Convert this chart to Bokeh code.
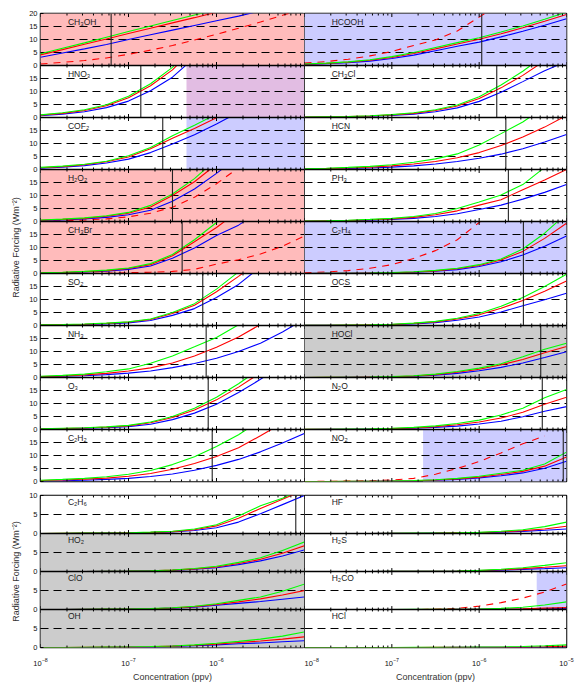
from bokeh.plotting import figure
from bokeh.models import Range1d, FixedTicker, CustomJSTickFormatter, ColumnDataSource
from bokeh.layouts import row, column
from bokeh.transform import dodge
from bokeh.core.properties import value
from bokeh.embed import file_html
from bokeh.resources import INLINE

# ---------------- data ----------------
CONC = [1e-8, 1.78e-8, 3.16e-8, 5.62e-8, 1e-7, 1.78e-7, 3.16e-7, 5.62e-7,
        1e-6, 1.78e-6, 3.16e-6, 5.62e-6, 1e-5]
X_TICKS = [1e-8, 1e-7, 1e-6, 1e-5]

# top-left column
CH3OH_G = [4.5, 6.6, 8.7, 10.9, 13.1, 15.2, 17.3, 19.4, 21.5]
CH3OH_R = [4.1, 6.1, 8.2, 10.2, 12.3, 14.3, 16.4, 18.4, 20.5]
CH3OH_B = [3.2, 4.8, 6.4, 8.1, 10.0, 11.8, 13.6, 15.4, 17.2, 19.0, 21.0]
CH3OH_D = [0.6, 1.2, 1.9, 2.9, 4.3, 5.9, 7.7, 9.8, 12.0, 14.3, 16.7, 19.3, 22.0]
HNO3_G = [1.0, 1.8, 3.0, 4.9, 8.2, 13.0, 19.3, 28.0]
HNO3_R = [0.9, 1.6, 2.7, 4.5, 7.6, 12.2, 18.3, 27.0]
HNO3_B = [0.7, 1.3, 2.2, 3.8, 6.3, 10.3, 15.5, 23.0]
COF2_G = [0.8, 1.3, 2.0, 3.2, 5.3, 8.5, 13.0, 17.0, 21.3]
COF2_R = [0.7, 1.1, 1.8, 3.0, 4.8, 8.0, 12.0, 15.8, 19.9, 24.0]
COF2_B = [0.5, 0.9, 1.5, 2.5, 4.0, 6.5, 9.8, 13.4, 17.5, 22.0]
H2O2_G = [0.6, 0.9, 1.4, 2.2, 3.5, 6.2, 10.6, 16.5, 24.0]
H2O2_R = [0.5, 0.8, 1.2, 2.0, 3.2, 5.6, 10.0, 15.3, 22.0]
H2O2_B = [0.4, 0.6, 1.0, 1.6, 2.6, 4.3, 7.8, 12.5, 18.5, 25.0]
H2O2_D = [0.2, 0.3, 0.6, 1.0, 1.8, 3.2, 5.5, 9.3, 14.5, 20.7]
CH3BR_G = [0.3, 0.5, 0.8, 1.3, 2.1, 3.8, 7.3, 13.0, 19.6, 27.0]
CH3BR_R = [0.3, 0.4, 0.7, 1.1, 1.9, 3.4, 6.8, 12.2, 17.7, 24.0]
CH3BR_B = [0.2, 0.3, 0.6, 0.9, 1.6, 2.9, 5.9, 9.8, 14.6, 18.6, 24.0]
CH3BR_D = [0.0, 0.0, 0.0, 0.1, 0.3, 0.5, 0.8, 1.6, 3.6, 5.3, 7.5, 10.5, 14.4]
SO2_G = [0.3, 0.4, 0.6, 0.9, 1.4, 2.5, 5.0, 8.4, 14.0, 20.6]
SO2_R = [0.3, 0.4, 0.5, 0.8, 1.3, 2.3, 4.6, 7.8, 13.0, 18.9, 25.0]
SO2_B = [0.2, 0.3, 0.4, 0.6, 1.0, 1.9, 3.9, 6.5, 10.8, 15.8, 22.5]
NH3_G = [0.5, 0.8, 1.3, 2.2, 3.3, 5.5, 8.3, 11.8, 15.4, 20.3]
NH3_R = [0.4, 0.6, 1.0, 1.6, 2.5, 3.7, 5.6, 8.3, 11.6, 15.6, 20.4]
NH3_B = [0.3, 0.5, 0.7, 1.1, 1.7, 2.5, 3.8, 5.4, 7.4, 10.0, 13.2, 17.5, 22.5]
O3_G = [0.3, 0.5, 0.7, 1.0, 1.6, 2.9, 5.0, 8.2, 12.4, 17.6, 23.5]
O3_R = [0.3, 0.4, 0.6, 0.9, 1.4, 2.6, 4.6, 7.5, 11.4, 16.3, 21.8]
O3_B = [0.2, 0.3, 0.5, 0.7, 1.1, 2.0, 3.8, 6.3, 9.7, 14.2, 19.3, 25.0]
C2H2_G = [0.5, 0.8, 1.2, 1.8, 2.8, 4.2, 6.5, 9.5, 13.5, 18.0, 23.5]
C2H2_R = [0.4, 0.6, 0.9, 1.3, 2.0, 3.1, 4.7, 6.9, 9.6, 13.0, 17.6, 22.5]
C2H2_B = [0.2, 0.3, 0.5, 0.8, 1.2, 1.9, 2.9, 4.3, 6.2, 8.5, 11.4, 14.8, 18.5]

# top-right column
HCOOH_G = [0.6, 0.9, 1.4, 2.2, 3.4, 5.0, 6.9, 8.8, 10.7, 12.9, 15.2, 17.8, 20.5]
HCOOH_R = [0.5, 0.8, 1.3, 2.0, 3.1, 4.6, 6.4, 8.3, 10.1, 12.2, 14.5, 17.0, 19.6]
HCOOH_B = [0.4, 0.7, 1.1, 1.7, 2.7, 4.0, 5.7, 7.4, 9.0, 11.0, 13.2, 15.5, 18.0]
HCOOH_D = [0.9, 1.5, 2.4, 3.7, 5.4, 7.7, 9.8, 13.3, 18.6, 24.0]
CH3CL_G = [0.2, 0.3, 0.4, 0.7, 1.1, 1.8, 3.0, 4.8, 8.0, 12.5, 17.8, 24.0]
CH3CL_R = [0.2, 0.3, 0.4, 0.6, 1.0, 1.6, 2.7, 4.4, 7.3, 11.4, 16.2, 21.8]
CH3CL_B = [0.1, 0.2, 0.3, 0.5, 0.8, 1.3, 2.2, 3.7, 6.2, 9.7, 13.8, 18.0, 21.5]
HCN_G = [0.3, 0.5, 0.8, 1.2, 1.8, 2.8, 4.1, 6.0, 9.4, 13.8, 18.3, 24.0]
HCN_R = [0.2, 0.4, 0.6, 0.9, 1.4, 2.1, 3.1, 4.5, 6.5, 9.2, 12.5, 16.3, 20.8]
HCN_B = [0.2, 0.3, 0.4, 0.6, 0.9, 1.4, 2.1, 3.1, 4.3, 5.9, 8.0, 10.6, 13.5]
PH3_G = [0.2, 0.3, 0.5, 0.8, 1.2, 1.9, 3.1, 5.0, 7.5, 10.2, 14.2, 20.8]
PH3_R = [0.2, 0.3, 0.4, 0.7, 1.0, 1.6, 2.6, 4.1, 6.3, 8.4, 12.2, 16.0, 20.0]
PH3_B = [0.1, 0.2, 0.3, 0.5, 0.8, 1.2, 1.9, 3.0, 4.6, 6.3, 8.6, 11.2, 14.2]
C2H4_G = [0.0, 0.1, 0.1, 0.2, 0.4, 0.7, 1.2, 2.0, 3.4, 5.6, 9.4, 15.5, 23.0]
C2H4_R = [0.0, 0.1, 0.1, 0.2, 0.3, 0.6, 1.0, 1.8, 3.1, 5.2, 8.5, 13.5, 19.3]
C2H4_B = [0.0, 0.1, 0.1, 0.2, 0.3, 0.5, 0.9, 1.5, 2.7, 4.5, 7.1, 10.5, 14.4]
C2H4_D = [0.3, 0.6, 1.1, 2.0, 3.4, 5.8, 8.8, 13.0, 19.6, 28.0]
OCS_G = [0.1, 0.1, 0.2, 0.3, 0.5, 0.9, 1.6, 2.8, 4.6, 7.4, 10.8, 15.0, 19.7]
OCS_R = [0.1, 0.1, 0.2, 0.3, 0.4, 0.8, 1.4, 2.5, 4.1, 6.6, 9.6, 13.2, 17.1]
OCS_B = [0.1, 0.1, 0.1, 0.2, 0.4, 0.6, 1.1, 2.0, 3.3, 5.2, 7.6, 9.9, 12.4]
HOCL_G = [0.0, 0.1, 0.1, 0.2, 0.4, 0.7, 1.3, 2.3, 3.6, 5.3, 8.0, 10.9, 13.2]
HOCL_R = [0.0, 0.1, 0.1, 0.2, 0.3, 0.6, 1.1, 2.0, 3.2, 4.9, 6.9, 9.5, 11.9]
HOCL_B = [0.0, 0.0, 0.1, 0.2, 0.3, 0.5, 0.9, 1.6, 2.6, 3.9, 5.6, 7.7, 9.9]
N2O_G = [0.1, 0.1, 0.2, 0.3, 0.5, 0.8, 1.4, 2.3, 3.6, 5.6, 8.2, 12.2, 15.4]
N2O_R = [0.1, 0.1, 0.1, 0.2, 0.4, 0.6, 1.1, 1.8, 2.9, 4.4, 6.6, 9.7, 12.4]
N2O_B = [0.0, 0.1, 0.1, 0.2, 0.3, 0.5, 0.8, 1.3, 2.1, 3.2, 4.9, 7.0, 8.8]
NO2_G = [0.0, 0.0, 0.1, 0.1, 0.2, 0.4, 0.7, 1.2, 2.0, 3.2, 4.3, 6.7, 11.3]
NO2_R = [0.0, 0.0, 0.1, 0.1, 0.2, 0.3, 0.6, 1.0, 1.7, 2.7, 3.9, 5.9, 9.4]
NO2_B = [0.0, 0.0, 0.0, 0.1, 0.2, 0.3, 0.5, 0.8, 1.4, 2.2, 3.3, 5.1, 7.8]
NO2_D = [0.0, 0.05, 0.15, 0.3, 0.6, 1.2, 2.8, 5.0, 7.7, 11.0, 14.5, 17.5]

# bottom-left column
C2H6_G = [0.0, 0.05, 0.1, 0.15, 0.2, 0.35, 0.6, 1.2, 2.3, 4.6, 7.3, 9.3, 12.0]
C2H6_R = [0.0, 0.05, 0.1, 0.1, 0.2, 0.3, 0.5, 1.0, 2.0, 4.0, 6.6, 9.0, 11.5]
C2H6_B = [0.0, 0.0, 0.05, 0.1, 0.15, 0.25, 0.4, 0.8, 1.5, 3.0, 5.2, 7.6, 10.0]
HO2_G = [0.0, 0.0, 0.0, 0.05, 0.1, 0.2, 0.4, 0.8, 1.4, 2.4, 3.6, 5.5, 7.8]
HO2_R = [0.0, 0.0, 0.0, 0.05, 0.1, 0.2, 0.35, 0.7, 1.2, 2.1, 3.2, 4.8, 6.8]
HO2_B = [0.0, 0.0, 0.0, 0.05, 0.1, 0.2, 0.3, 0.6, 1.0, 1.8, 2.8, 4.1, 5.7]
CLO_G = [0.0, 0.0, 0.05, 0.1, 0.15, 0.25, 0.45, 0.85, 1.5, 2.4, 3.3, 4.8, 6.7]
CLO_R = [0.0, 0.0, 0.05, 0.1, 0.15, 0.2, 0.4, 0.75, 1.3, 2.0, 2.8, 3.8, 5.0]
CLO_B = [0.0, 0.0, 0.05, 0.1, 0.1, 0.2, 0.35, 0.6, 1.1, 1.6, 2.1, 2.7, 3.3]
OH_G = [0.0, 0.0, 0.05, 0.1, 0.15, 0.25, 0.4, 0.7, 1.1, 1.6, 2.2, 3.0, 4.1]
OH_R = [0.0, 0.0, 0.05, 0.1, 0.1, 0.2, 0.35, 0.6, 0.9, 1.3, 1.7, 2.2, 2.8]
OH_B = [0.0, 0.0, 0.0, 0.05, 0.1, 0.15, 0.3, 0.45, 0.7, 1.0, 1.2, 1.5, 1.8]

# bottom-right column
HF_G = [0.0, 0.0, 0.0, 0.0, 0.05, 0.1, 0.15, 0.2, 0.3, 0.6, 1.0, 1.8, 3.0]
HF_R = [0.0, 0.0, 0.0, 0.0, 0.05, 0.08, 0.12, 0.18, 0.25, 0.45, 0.75, 1.2, 1.9]
HF_B = [0.0, 0.0, 0.0, 0.0, 0.04, 0.06, 0.1, 0.14, 0.2, 0.35, 0.55, 0.85, 1.2]
H2S_G = [0.0, 0.0, 0.0, 0.0, 0.02, 0.05, 0.08, 0.15, 0.3, 0.6, 1.0, 1.6, 2.3]
H2S_R = [0.0, 0.0, 0.0, 0.0, 0.02, 0.04, 0.07, 0.12, 0.25, 0.45, 0.75, 1.1, 1.5]
H2S_B = [0.0, 0.0, 0.0, 0.0, 0.02, 0.03, 0.06, 0.1, 0.2, 0.35, 0.55, 0.75, 1.0]
H2CO_G = [0.0, 0.0, 0.0, 0.0, 0.0, 0.02, 0.04, 0.06, 0.1, 0.3, 0.6, 1.2, 2.0]
H2CO_R = [0.0, 0.0, 0.0, 0.0, 0.0, 0.0, 0.02, 0.03, 0.05, 0.1, 0.2, 0.35, 0.5]
H2CO_B = [0.0, 0.0, 0.0, 0.0, 0.0, 0.0, 0.01, 0.02, 0.03, 0.05, 0.1, 0.2, 0.3]
H2CO_D = [0.0, 0.0, 0.0, 0.0, 0.0, 0.0, 0.05, 0.3, 0.9, 1.8, 3.0, 4.6, 6.7]
HCL_G = [0.0, 0.0, 0.0, 0.0, 0.01, 0.02, 0.04, 0.07, 0.1, 0.15, 0.25, 0.45, 0.7]
HCL_R = [0.0, 0.0, 0.0, 0.0, 0.0, 0.01, 0.02, 0.03, 0.05, 0.07, 0.1, 0.2, 0.35]
HCL_B = [0.0, 0.0, 0.0, 0.0, 0.0, 0.01, 0.01, 0.02, 0.03, 0.05, 0.08, 0.12, 0.2]

# vertical marker concentrations
VLINE_TL = [6.35e-8, 1.38e-7, 2.45e-7, 3.16e-7, 4.07e-7, 6.98e-7, 7.63e-7, 8.05e-7, 8.94e-7]
VLINE_TR = [1.07e-6, 1.59e-6, 2.02e-6, 2.16e-6, 3.21e-6, 3.21e-6, 5.07e-6, 5.28e-6, 9.18e-6]
VLINE_BL = [7.96e-6, None, None, None]
VLINE_BR = [None, None, None, None]

# shaded concentration spans per panel: (from, to, kind)
SHADE_TL = [[(1e-8, 1e-5, "red")], [(4.56e-7, 1e-5, "both")], [(4.56e-7, 1e-5, "blue")],
            [(1e-8, 1e-5, "red")], [(1e-8, 1e-5, "red")], [], [], [], []]
SHADE_TR = [[(1e-8, 1e-5, "blue")], [], [], [], [(1e-8, 1e-5, "blue")], [],
            [(1e-8, 1e-5, "gray")], [], [(2.28e-7, 1e-5, "blue")]]
SHADE_BL = [[], [(1e-8, 1e-5, "gray")], [(1e-8, 1e-5, "gray")], [(1e-8, 1e-5, "gray")]]
SHADE_BR = [[], [], [(4.56e-6, 1e-5, "blue")], []]

NAMES_TL = ["CH₃OH", "HNO₃", "COF₂", "H₂O₂", "CH₃Br", "SO₂", "NH₃", "O₃", "C₂H₂"]
NAMES_TR = ["HCOOH", "CH₃Cl", "HCN", "PH₃", "C₂H₄", "OCS", "HOCl", "N₂O", "NO₂"]
NAMES_BL = ["C₂H₆", "HO₂", "ClO", "OH"]
NAMES_BR = ["HF", "H₂S", "H₂CO", "HCl"]

CURVES_TL = [(CH3OH_G, CH3OH_R, CH3OH_B, CH3OH_D), (HNO3_G, HNO3_R, HNO3_B, None),
             (COF2_G, COF2_R, COF2_B, None), (H2O2_G, H2O2_R, H2O2_B, H2O2_D),
             (CH3BR_G, CH3BR_R, CH3BR_B, CH3BR_D), (SO2_G, SO2_R, SO2_B, None),
             (NH3_G, NH3_R, NH3_B, None), (O3_G, O3_R, O3_B, None), (C2H2_G, C2H2_R, C2H2_B, None)]
CURVES_TR = [(HCOOH_G, HCOOH_R, HCOOH_B, HCOOH_D), (CH3CL_G, CH3CL_R, CH3CL_B, None),
             (HCN_G, HCN_R, HCN_B, None), (PH3_G, PH3_R, PH3_B, None),
             (C2H4_G, C2H4_R, C2H4_B, C2H4_D), (OCS_G, OCS_R, OCS_B, None),
             (HOCL_G, HOCL_R, HOCL_B, None), (N2O_G, N2O_R, N2O_B, None), (NO2_G, NO2_R, NO2_B, NO2_D)]
CURVES_BL = [(C2H6_G, C2H6_R, C2H6_B, None), (HO2_G, HO2_R, HO2_B, None),
             (CLO_G, CLO_R, CLO_B, None), (OH_G, OH_R, OH_B, None)]
CURVES_BR = [(HF_G, HF_R, HF_B, None), (H2S_G, H2S_R, H2S_B, None),
             (H2CO_G, H2CO_R, H2CO_B, H2CO_D), (HCL_G, HCL_R, HCL_B, None)]

# ---------------- style ----------------
XMIN, XMAX = 1e-8, 1e-5
SHADE_COLOR = {"red": "#FFBBBB", "blue": "#CCCCFF", "gray": "#CCCCCC", "both": "#E2BDE3"}
GREEN, RED, BLUE = "#00FF00", "#FF0000", "#0000FF"
FONT = "Liberation Sans"
LABEL_X = 2.05e-8
MINOR = [m * d for d in (1e-8, 1e-7, 1e-6) for m in range(2, 10)]


def draw_section(p, names, curves, vlines, shades, ymax, levels, ppu, label_y):
    n = len(names)
    for r in range(n - 1, -1, -1):
        off = ymax * (n - 1 - r)
        p.quad(left=[XMIN], right=[XMAX], bottom=[off], top=[off + ymax],
               fill_color="white", line_color=None)
        for lo, hi, kind in shades[r]:
            p.quad(left=[lo], right=[hi], bottom=[off], top=[off + ymax],
                   fill_color=SHADE_COLOR[kind], line_color=None)
        ly = [off + lv for lv in levels]
        p.segment(x0=[XMIN] * len(ly), x1=[XMAX] * len(ly), y0=ly, y1=ly,
                  line_color="black", line_width=1, line_dash="8 5")
        g, rd, b, d = curves[r]
        if d is not None:
            src = ColumnDataSource(dict(x=CONC[:len(d)], y=d))
            p.line("x", dodge("y", off), source=src, line_color=RED,
                   line_width=1.1, line_dash="7 6")
        for vals, col in ((b, BLUE), (rd, RED), (g, GREEN)):
            src = ColumnDataSource(dict(x=CONC[:len(vals)], y=vals))
            p.line("x", dodge("y", off), source=src, line_color=col, line_width=1.1)
        if vlines[r] is not None:
            p.segment(x0=[vlines[r]], x1=[vlines[r]], y0=[off], y1=[off + ymax],
                      line_color="#222222", line_width=1.1)
        p.text(x=[LABEL_X], y=[off + label_y], text=[names[r]],
               text_font=value(FONT), text_font_size="8.5px", text_color="#222222",
               text_align="left", text_baseline="alphabetic")
    # separators
    sy = [ymax * k for k in range(1, n)]
    p.segment(x0=[XMIN] * len(sy), x1=[XMAX] * len(sy), y0=sy, y1=sy,
              line_color="black", line_width=1.6)
    # inward ticks on every border
    x0, y0, y1 = [], [], []
    for k in range(n + 1):
        yb = ymax * k
        for t in X_TICKS:
            x0.append(t); y0.append(yb - 3.5 / ppu); y1.append(yb + 3.5 / ppu)
        for t in MINOR:
            x0.append(t); y0.append(yb - 2 / ppu); y1.append(yb + 2 / ppu)
    p.segment(x0=x0, x1=x0, y0=y0, y1=y1, line_color="black", line_width=1)


def make_fig(width, height, ytop, left_axis, bottom_axis, mbl, mbr, mbt, mbb):
    p = figure(width=width, height=height, x_axis_type="log",
               x_range=Range1d(XMIN, XMAX), y_range=Range1d(0, ytop),
               toolbar_location=None, output_backend="svg",
               x_axis_location="below" if bottom_axis else None,
               y_axis_location="left" if left_axis else None,
               min_border_left=mbl, min_border_right=mbr,
               min_border_top=mbt, min_border_bottom=mbb)
    p.outline_line_color = "black"
    p.outline_line_width = 1.5
    p.grid.grid_line_color = None
    p.background_fill_color = "white"
    p.border_fill_color = "white"
    return p


def style_y(p, ymax, ytop):
    ax = p.yaxis[0]
    ax.ticker = FixedTicker(ticks=list(range(0, int(ytop) + 1, 5)), minor_ticks=[])
    ax.formatter = CustomJSTickFormatter(
        args=dict(m=ymax, top=ytop),
        code="return (tick >= top) ? String(m) : String(tick % m);")
    ax.major_tick_in = 3
    ax.major_tick_out = 0
    ax.minor_tick_in = 0
    ax.minor_tick_out = 0
    ax.axis_line_color = None
    ax.major_label_standoff = 3
    ax.major_label_text_font = FONT
    ax.major_label_text_font_size = "7.5px"
    ax.major_label_text_color = "#111111"
    ax.axis_label = "Radiative Forcing (Wm⁻²)"
    ax.axis_label_text_font = FONT
    ax.axis_label_text_font_size = "9px"
    ax.axis_label_text_font_style = "normal"
    ax.axis_label_text_color = "#333333"
    ax.axis_label_standoff = 5


def style_x(p, ticks):
    ax = p.xaxis[0]
    ax.ticker = FixedTicker(ticks=ticks, minor_ticks=[])
    ax.major_tick_in = 0
    ax.major_tick_out = 0
    ax.minor_tick_in = 0
    ax.minor_tick_out = 0
    ax.axis_line_color = None
    ax.major_label_standoff = 10
    ax.major_label_text_font = FONT
    ax.major_label_text_font_size = "7.5px"
    ax.major_label_text_color = "#111111"
    ax.axis_label = "Concentration (ppv)"
    ax.axis_label_text_font = FONT
    ax.axis_label_text_font_size = "9px"
    ax.axis_label_text_font_style = "normal"
    ax.axis_label_text_color = "#333333"
    ax.axis_label_standoff = 3


tl = make_fig(304, 488, 180, True, False, 40, 0, 13, 7)
tr = make_fig(271, 488, 180, False, False, 0, 9, 13, 7)
bl = make_fig(304, 196, 40, True, True, 40, 0, 7, 33)
br = make_fig(271, 196, 40, False, True, 0, 9, 7, 33)

draw_section(tl, NAMES_TL, CURVES_TL, VLINE_TL, SHADE_TL, 20, [5, 10, 15], 2.6, 16.7)
draw_section(tr, NAMES_TR, CURVES_TR, VLINE_TR, SHADE_TR, 20, [5, 10, 15], 2.6, 16.7)
draw_section(bl, NAMES_BL, CURVES_BL, VLINE_BL, SHADE_BL, 10, [5], 3.9, 8.2)
draw_section(br, NAMES_BR, CURVES_BR, VLINE_BR, SHADE_BR, 10, [5], 3.9, 8.2)

style_y(tl, 20, 180)
style_y(bl, 10, 40)
style_x(bl, X_TICKS[:3])
style_x(br, X_TICKS)

layout = column(row(tl, tr), row(bl, br))
open("out.html", "w").write(file_html(layout, INLINE))
